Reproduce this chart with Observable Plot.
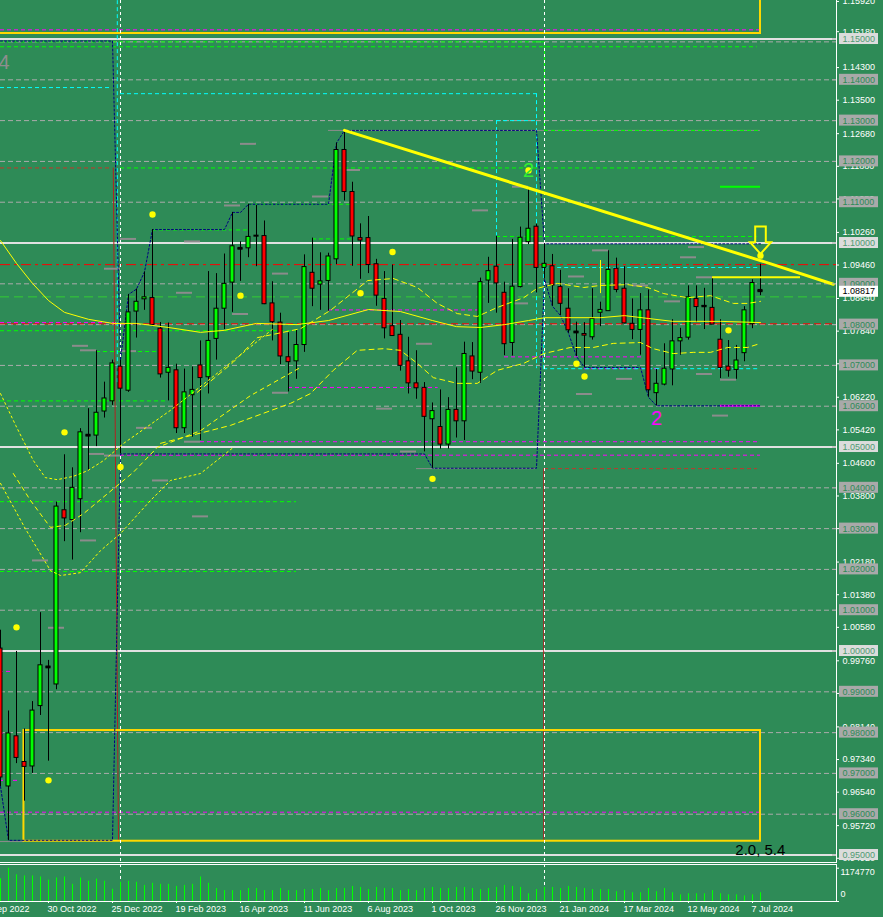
<!DOCTYPE html>
<html><head><meta charset="utf-8">
<script src="https://cdn.jsdelivr.net/npm/d3@7"></script>
<script src="https://cdn.jsdelivr.net/npm/@observablehq/plot@0.6"></script>
<style>
html,body{margin:0;padding:0;background:#2E8B57;overflow:hidden;}
#wrap{width:883px;height:917px;background:#2E8B57;}
#wrap svg{display:block;}
</style></head><body><div id="wrap"></div>
<script>
// ---------- DATA ----------
const weeks = ["2022-09-18","2022-09-25","2022-10-02","2022-10-09","2022-10-16","2022-10-23","2022-10-30","2022-11-06","2022-11-13","2022-11-20","2022-11-27","2022-12-04","2022-12-11","2022-12-18","2022-12-25","2023-01-01","2023-01-08","2023-01-15","2023-01-22","2023-01-29","2023-02-05","2023-02-12","2023-02-19","2023-02-26","2023-03-05","2023-03-12","2023-03-19","2023-03-26","2023-04-02","2023-04-09","2023-04-16","2023-04-23","2023-04-30","2023-05-07","2023-05-14","2023-05-21","2023-05-28","2023-06-04","2023-06-11","2023-06-18","2023-06-25","2023-07-02","2023-07-09","2023-07-16","2023-07-23","2023-07-30","2023-08-06","2023-08-13","2023-08-20","2023-08-27","2023-09-03","2023-09-10","2023-09-17","2023-09-24","2023-10-01","2023-10-08","2023-10-15","2023-10-22","2023-10-29","2023-11-05","2023-11-12","2023-11-19","2023-11-26","2023-12-03","2023-12-10","2023-12-17","2023-12-24","2023-12-31","2024-01-07","2024-01-14","2024-01-21","2024-01-28","2024-02-04","2024-02-11","2024-02-18","2024-02-25","2024-03-03","2024-03-10","2024-03-17","2024-03-24","2024-03-31","2024-04-07","2024-04-14","2024-04-21","2024-04-28","2024-05-05","2024-05-12","2024-05-19","2024-05-26","2024-06-02","2024-06-09","2024-06-16","2024-06-23","2024-06-30","2024-07-07","2024-07-14"];
const open  = [1.0006,0.9668,0.9791,0.9728,0.9717,0.9865,0.9962,0.9918,1.0345,1.0321,1.0372,1.0530,1.0528,1.0587,1.0612,1.0697,1.0638,1.0832,1.0862,1.0865,1.0790,1.0682,1.0688,1.0546,1.0627,1.0700,1.0671,1.0765,1.0839,1.0903,1.0988,1.0987,1.1018,1.1017,1.0852,1.0805,1.0720,1.0710,1.0750,1.0927,1.0898,1.0907,1.0960,1.1228,1.1125,1.1012,1.1012,1.0948,1.0863,1.0796,1.0775,1.0710,1.0656,1.0645,1.0568,1.0549,1.0506,1.0591,1.0563,1.0722,1.0682,1.0908,1.0942,1.0878,1.0755,1.0892,1.1002,1.1040,1.0939,1.0943,1.0892,1.0839,1.0783,1.0777,1.0769,1.0829,1.0833,1.0937,1.0888,1.0802,1.0787,1.0835,1.0632,1.0653,1.0690,1.0759,1.0768,1.0863,1.0846,1.0841,1.0763,1.0697,1.0689,1.0730,1.0801,1.0885];
const high  = [1.0051,0.9853,0.9999,0.9809,0.9876,1.0094,0.9977,1.0365,1.0481,1.0449,1.0545,1.0594,1.0736,1.0659,1.0713,1.0713,1.0874,1.0887,1.0929,1.1033,1.0805,1.0804,1.0703,1.0691,1.0696,1.0760,1.0930,1.0925,1.0973,1.1075,1.1003,1.1095,1.1092,1.1054,1.0905,1.0828,1.0780,1.0787,1.0971,1.1012,1.0976,1.0975,1.1245,1.1276,1.1149,1.1047,1.1065,1.0960,1.0930,1.0946,1.0810,1.0769,1.0736,1.0658,1.0608,1.0640,1.0621,1.0694,1.0757,1.0756,1.0914,1.0965,1.1017,1.0904,1.1009,1.1039,1.1133,1.1046,1.0998,1.0972,1.0933,1.0888,1.0806,1.0805,1.0888,1.0855,1.0981,1.0963,1.0942,1.0863,1.0876,1.0885,1.0690,1.0753,1.0812,1.0791,1.0895,1.0895,1.0889,1.0916,1.0812,1.0761,1.0749,1.0844,1.0910,1.0948];
const low   = [0.9668,0.9536,0.9724,0.9632,0.9700,0.9842,0.9730,0.9905,1.0268,1.0223,1.0290,1.0443,1.0501,1.0571,1.0602,1.0483,1.0634,1.0767,1.0835,1.0795,1.0669,1.0613,1.0533,1.0533,1.0524,1.0516,1.0630,1.0713,1.0788,1.0830,1.0906,1.0964,1.0942,1.0849,1.0760,1.0702,1.0635,1.0666,1.0732,1.0844,1.0835,1.0833,1.0947,1.1103,1.0943,1.0911,1.0925,1.0845,1.0765,1.0771,1.0686,1.0630,1.0617,1.0488,1.0448,1.0495,1.0495,1.0522,1.0516,1.0665,1.0656,1.0852,1.0828,1.0724,1.0723,1.0890,1.0996,1.0877,1.0911,1.0845,1.0822,1.0779,1.0722,1.0695,1.0762,1.0795,1.0833,1.0878,1.0802,1.0763,1.0725,1.0622,1.0601,1.0650,1.0650,1.0725,1.0762,1.0805,1.0788,1.0800,1.0668,1.0671,1.0666,1.0709,1.0790,1.0871];
const close = [0.9690,0.9798,0.9738,0.9716,0.9854,0.9965,0.9960,1.0354,1.0325,1.0400,1.0536,1.0528,1.0584,1.0619,1.0705,1.0643,1.0830,1.0856,1.0867,1.0799,1.0678,1.0694,1.0546,1.0634,1.0640,1.0669,1.0760,1.0839,1.0900,1.0992,1.0986,1.1015,1.1018,1.0850,1.0806,1.0722,1.0708,1.0750,1.0941,1.0888,1.0906,1.0967,1.1228,1.1125,1.1016,1.1006,1.0946,1.0871,1.0791,1.0772,1.0699,1.0656,1.0644,1.0574,1.0588,1.0506,1.0591,1.0563,1.0728,1.0685,1.0904,1.0931,1.0901,1.0752,1.0893,1.1013,1.1035,1.0939,1.0949,1.0896,1.0851,1.0786,1.0781,1.0773,1.0814,1.0836,1.0934,1.0885,1.0803,1.0787,1.0835,1.0639,1.0655,1.0692,1.0759,1.0767,1.0867,1.0843,1.0845,1.0800,1.0694,1.0687,1.0712,1.0835,1.0902,1.0882];
const volume = [804000,1174770,940000,903000,903000,866000,754000,829000,866000,606000,829000,717000,791000,717000,433000,680000,717000,680000,569000,643000,606000,606000,532000,569000,606000,866000,643000,458000,383000,383000,383000,458000,458000,383000,383000,458000,383000,383000,420000,420000,458000,383000,458000,458000,532000,495000,420000,495000,458000,458000,383000,420000,383000,458000,495000,458000,458000,495000,495000,458000,420000,458000,495000,569000,532000,495000,272000,420000,495000,495000,458000,532000,495000,458000,420000,420000,420000,346000,383000,309000,309000,458000,346000,458000,309000,235000,272000,272000,272000,383000,272000,235000,235000,198000,235000,309000];

// indicator series, [week index, price]
const maLine = [[0,1.1006],[2,1.0950],[4,1.0901],[6,1.0859],[8,1.0830],[11,1.0813],[14,1.0803],[17,1.0803],[21,1.0793],[25,1.0781],[28,1.0786],[32,1.0803],[37,1.0800],[41,1.0810],[46,1.0837],[50,1.0832],[54,1.0810],[57,1.0795],[60,1.0793],[63,1.0800],[66,1.0810],[68,1.0817],[71,1.0817],[75,1.0817],[78,1.0822],[81,1.0815],[84,1.0808],[87,1.0808],[90,1.0808],[95,1.0805]];
const bandOuterA = [[0,1.0411],[3.1,1.0300],[6.25,1.0197],[7.5,1.0185],[10,1.0192],[12.5,1.0246],[15,1.0288],[18.75,1.0369],[21.25,1.0418],[25,1.0435],[29.1,1.0499]];
const bandOuterB = [[0,1.0631],[1.9,1.0553],[4.1,1.0467],[5.6,1.0425],[7.1,1.0420],[9.1,1.0428],[10.9,1.0442],[12.9,1.0467],[15.4,1.0509],[21.25,1.0590],[27.5,1.0687],[34.1,1.0790]];
const bandInnerC = [[1.6,1.0435],[3.75,1.0369],[5.4,1.0325],[6.25,1.0303],[8.1,1.0308],[10.4,1.0337],[13.4,1.0386],[16.6,1.0438],[19.6,1.0499],[25,1.0540],[31.25,1.0626],[37.5,1.0695]];
const bandLower = [[20,1.0509],[28.75,1.0553],[36.25,1.0607],[38.75,1.0631],[41.6,1.0688],[44.6,1.0737],[47.9,1.0741],[50,1.0737],[52.1,1.0705],[54.1,1.0670],[57.1,1.0656],[59.6,1.0656],[62.1,1.0688],[65.4,1.0705],[67.9,1.0729],[71.25,1.0744],[74.1,1.0744],[76.6,1.0754],[80,1.0756],[81.6,1.0741],[84.1,1.0729],[86.6,1.0732],[88.75,1.0732],[90.9,1.0744],[93.4,1.0744],[95,1.0754]];
const bandUpper = [[24.6,1.0634],[29.1,1.0708],[32.1,1.0768],[37.5,1.0790],[41.25,1.0835],[45.9,1.0908],[49.1,1.0913],[52.1,1.0891],[54.6,1.0852],[57.1,1.0827],[59.6,1.0820],[62.1,1.0842],[65.4,1.0866],[67.1,1.0889],[69.6,1.0901],[72.9,1.0891],[75,1.0896],[78.4,1.0898],[80.9,1.0891],[82.9,1.0876],[85.9,1.0866],[88.75,1.0871],[91.6,1.0852],[93.4,1.0852],[95,1.0857]];
const yearHigh = [[0,1.1495],[14,1.1495],[15,1.0713],[16,1.0874],[17,1.0887],[18,1.0929],[19,1.1033],[28,1.1033],[29,1.1075],[30,1.1075],[31,1.1095],[41,1.1095],[42,1.1245],[43,1.1276],[67,1.1276],[68,1.0998],[95,1.0998]];
const yearLow = [[0,0.9668],[1,0.9536],[14,0.9536],[15,1.0483],[53,1.0483],[54,1.0448],[67,1.0448],[68,1.0911],[69,1.0845],[70,1.0822],[71,1.0779],[72,1.0722],[73,1.0695],[80,1.0695],[81,1.0622],[82,1.0601],[95,1.0601]];
const fractals = [[2,1.0058],[6,0.9683],[8,1.0536],[15,1.0451],[19,1.1070],[30,1.0871],[45,1.0877],[49,1.0978],[54,1.0422],[66,1.1178],[72,1.0704],[73,1.0673],[91,1.0786],[95,1.0969]];
const trendLine = [[43,1.1276],[95,1.0957],[104.1,1.0899]];

// horizontal levels
const gridLevels = [1.14,1.13,1.12,1.11,1.09,1.08,1.07,1.06,1.04,1.03,1.02,1.01,0.99,0.98,0.97,0.96,1.1493];
const roundLevels = [1.15,1.10,1.05,1.00,0.95];
const greenLongLevel = [1.0868];
const redDashDotLevel = [1.0947];
const redDashLevel = [1.0802];
const greenSegs = [{p:1.1481,a:0,b:94.6},{p:1.1493,a:0,b:67},{p:1.1184,a:15,b:94.6},{p:1.1276,a:68,b:95},{p:1.1016,a:62,b:94.6},{p:1.1095,a:31,b:44},{p:1.1032,a:19,b:31},{p:1.1010,a:39,b:44},{p:1.0734,a:12,b:19.5},{p:1.0785,a:0,b:37},{p:1.0613,a:0,b:20.8},{p:1.0366,a:0,b:37},{p:1.0195,a:0,b:37}];
const greenSolidSegs = [{p:1.1138,a:90,b:95}];
const magentaSegs = [{p:1.15225,a:0,b:95},{p:1.0805,a:0,b:15},{p:1.0721,a:63,b:80.5},{p:1.0692,a:73,b:82.7},{p:1.0646,a:36,b:54.7},{p:1.0836,a:41,b:59.7},{p:1.0513,a:25,b:95},{p:1.0480,a:15,b:95},{p:0.9605,a:0,b:95},{p:0.9950,a:-1,b:1.6},{p:0.9798,a:-1,b:1.6},{p:0.9683,a:-1,b:2.5}];
const magentaSolidSegs = [{p:1.0601,a:90,b:95}];
const cyanSegs = [{p:1.1381,a:0,b:14},{p:1.1366,a:15,b:67},{p:1.1300,a:62,b:67},{p:1.0940,a:67.9,b:95},{p:1.0692,a:67.9,b:95}];
const cyanVerticals = [{i:14.6,p1:1.1594,p2:1.0656},{i:67,p1:1.1366,p2:1.0692},{i:62,p1:1.1300,p2:1.1015},{i:67.9,p1:1.0940,p2:1.0692}];
const darkRedSegs = [{p:1.0447,a:68,b:94.6},{p:1.1184,a:0,b:14}];
const darkRedLines = [[[14.1,1.1184],[14.4,1.0400],[14.75,0.9534]],[[67.9,1.0447],[67.9,0.9534]]];
const greenStep = [[67,1.1493],[68,1.1276]];
const graySolidSegs = [{p:1.1276,a:41,b:95},{p:1.0447,a:52,b:67},{p:0.9533,a:0,b:3}];
const grayMarks = [[30,1.1243],[23,1.1004],[13,1.0937],[34,1.0925],[22,1.0878],[29,1.0826],[9,1.0748],[10,1.0737],[15,1.0735],[17,1.0547],[23,1.0513],[11,1.0483],[34,1.0633],[15,1.1010],[28,1.1092],[13,1.0479],[19,1.0418],[24,1.0330],[10,1.0271],[4,1.0222],[6,1.0057],[39,1.1114],[43,1.1179],[59,1.1080],[47,1.0594],[50,1.0489],[52,1.0753],[64,1.1138],[64,1.0852],[74,1.0982],[85,1.0965],[86,1.0990],[71,1.0918],[87,1.0916],[83,1.0857],[77,1.0667],[72,1.0630],[90,1.0665],[89,1.0577],[87,1.0679],[79,1.0896]];
const yellowBoxes = [{a:-5,b:95,lo:1.15135,hi:1.17},{a:2.93,b:95,lo:0.95338,hi:0.98051}];
const yellowHoriz = [{p:1.0916,a:89,b:100}];
const yellowVert = [{i:75,p1:1.0957,p2:1.0876}];
const arrows = [{i:95,p:1.1006}];
const separators = [15, 68];
const annotations = [
  {t:"4", i:-0.25, p:1.1442, kind:"gray"},
  {t:"2", i:66, p:1.1178, kind:"green"},
  {t:"2", i:82, p:1.0570, kind:"magenta"},
  {t:"2.0, 5.4", i:91.85, p:0.9511, kind:"black"}
];

// axis labels
const priceTicks = [1.1592,1.1518,1.1430,1.1350,1.1268,1.1188,1.1108,1.1026,1.0946,1.0864,1.0784,1.0704,1.0622,1.0542,1.0460,1.0380,1.0300,1.0218,1.0138,1.0058,0.9976,0.9896,0.9814,0.9734,0.9654,0.9572,0.9492];
const grayBoxLabels = [1.14,1.13,1.12,1.11,1.09,1.08,1.07,1.06,1.04,1.03,1.02,1.01,0.99,0.98,0.97,0.96];
const lightBoxLabels = [1.15,1.10,1.05,1.00,0.95];
const currentPrice = [1.08817];
const dateTicks = ["2022-09-04","2022-10-30","2022-12-25","2023-02-19","2023-04-16","2023-06-11","2023-08-06","2023-10-01","2023-11-26","2024-01-21","2024-03-17","2024-05-12","2024-07-07"];
const volumeMaxLabel = [1174770];
const volumeZeroLabel = [0];

// ---------- SCALES / HELPERS ----------
const FONT = "'Liberation Sans', Arial, sans-serif";
const fmt5 = d3.format(".5f");
const fmtDate = d3.utcFormat("%-d %b %Y");
const D0 = Date.parse(weeks[0] + "T00:00:00Z");
const wk = i => new Date(D0 + i * 7 * 864e5);
const xDomain = [wk(0), wk(104.5)];
const yDomain = [0.94792, 1.15944];
const PX = (yDomain[1] - yDomain[0]) / 863; // price per pixel
const candles = weeks.map((w, i) => ({date: new Date(w + "T00:00:00Z"), i, o: open[i], h: high[i], l: low[i], c: close[i], v: volume[i]}));
const upC = candles.filter(d => d.c >= d.o), dnC = candles.filter(d => d.c < d.o);
const dojis = candles.filter(d => Math.abs(d.c - d.o) < 0.0003);
const segX1 = d => wk(d.a), segX2 = d => wk(d.b);
const px = d => wk(d[0]), py = d => d[1];
const paths = (arrs) => arrs.flatMap((a, k) => a.map(p => ({i: p[0], p: p[1], k})));
const Y = "#FFFF00";
const thin = {strokeWidth: 1};

const main = Plot.plot({
  width: 883, height: 863,
  marginLeft: 0, marginRight: 47, marginTop: 0, marginBottom: 0,
  x: {type: "utc", domain: xDomain, axis: null},
  y: {type: "linear", domain: yDomain, axis: null},
  style: {background: "transparent", color: "white", fontFamily: FONT, fontSize: "9px"},
  marks: [
    Plot.ruleY(gridLevels, {stroke: "#ABABAB", strokeDasharray: "5,3"}),
    Plot.ruleY(roundLevels, {stroke: "#E1E1E1", strokeWidth: 2}),
    Plot.ruleY(greenLongLevel, {stroke: "#32CD32", strokeDasharray: "9,5"}),
    Plot.ruleY(redDashDotLevel, {stroke: "#FF0000", strokeDasharray: "10,4,3,4"}),
    Plot.ruleY(redDashLevel, {stroke: "#FF0000", strokeDasharray: "7,4"}),
    Plot.ruleY(graySolidSegs, {y: "p", x1: segX1, x2: segX2, stroke: "#8C8C8C"}),
    Plot.ruleY(greenSegs, {y: "p", x1: segX1, x2: segX2, stroke: "#00FF00", strokeDasharray: "4,3"}),
    Plot.ruleY(greenSolidSegs, {y: "p", x1: segX1, x2: segX2, stroke: "#00FF00", strokeWidth: 2}),
    Plot.line(greenStep, {x: px, y: py, stroke: "#00FF00", curve: "step-after", ...thin}),
    Plot.ruleY(magentaSegs, {y: "p", x1: segX1, x2: segX2, stroke: "#FF00FF", strokeDasharray: "4,3", clip: true}),
    Plot.ruleY(magentaSolidSegs, {y: "p", x1: segX1, x2: segX2, stroke: "#FF00FF", strokeWidth: 2}),
    Plot.ruleY(cyanSegs, {y: "p", x1: segX1, x2: segX2, stroke: "#00FFFF", strokeDasharray: "4,3"}),
    Plot.ruleX(cyanVerticals, {x: d => wk(d.i), y1: "p1", y2: "p2", stroke: "#00FFFF", strokeDasharray: "4,3"}),
    Plot.ruleY(darkRedSegs, {y: "p", x1: segX1, x2: segX2, stroke: "#C0392B", strokeDasharray: "4,3"}),
    Plot.line(paths(darkRedLines), {x: d => wk(d.i), y: "p", z: "k", stroke: "#B22222", ...thin}),
    Plot.ruleY(grayMarks, {y: d => d[1], x1: d => wk(d[0]), x2: d => wk(d[0] + 2), stroke: "#8C8C8C", strokeWidth: 2}),
    Plot.rect(yellowBoxes, {x1: segX1, x2: segX2, y1: "lo", y2: "hi", fill: "none", stroke: "#FFD700", strokeWidth: 2, clip: true}),
    Plot.line(yearHigh, {x: px, y: py, stroke: "#000080", strokeDasharray: "2,2", ...thin}),
    Plot.line(yearLow, {x: px, y: py, stroke: "#000080", strokeDasharray: "2,2", ...thin}),
    Plot.ruleX(separators.map(wk), {stroke: "white", strokeDasharray: "3,3"}),
    // candles
    Plot.ruleX(candles, {x: "date", y1: "l", y2: "h", stroke: "black"}),
    Plot.rect(upC, {x1: d => wk(d.i - 0.25), x2: d => wk(d.i + 0.25), y1: "o", y2: "c", fill: "#00FF00", stroke: "black"}),
    Plot.rect(dnC, {x1: d => wk(d.i - 0.25), x2: d => wk(d.i + 0.25), y1: "o", y2: "c", fill: "#FF0000", stroke: "black"}),
    Plot.ruleY(dojis, {y: "c", x1: d => wk(d.i - 0.32), x2: d => wk(d.i + 0.32), stroke: "black", strokeWidth: 2}),
    // indicator
    Plot.line(maLine, {x: px, y: py, stroke: Y, ...thin}),
    Plot.line(bandOuterA, {x: px, y: py, stroke: Y, strokeDasharray: "2,3", ...thin}),
    Plot.line(bandOuterB, {x: px, y: py, stroke: Y, strokeDasharray: "2,3", ...thin}),
    Plot.line(bandInnerC, {x: px, y: py, stroke: Y, strokeDasharray: "4,4", ...thin}),
    Plot.line(bandUpper, {x: px, y: py, stroke: Y, strokeDasharray: "5,4", ...thin}),
    Plot.line(bandLower, {x: px, y: py, stroke: Y, strokeDasharray: "5,4", ...thin}),
    // objects
    Plot.line(trendLine, {x: px, y: py, stroke: Y, strokeWidth: 3, clip: true}),
    Plot.ruleY(yellowHoriz, {y: "p", x1: segX1, x2: segX2, stroke: Y, strokeWidth: 2}),
    Plot.ruleX(yellowVert, {x: d => wk(d.i), y1: "p1", y2: "p2", stroke: Y}),
    Plot.dot(fractals, {x: px, y: py, r: 3.2, fill: Y}),
    Plot.dot(arrows, {x: d => wk(d.i), y: "p", r: 10, stroke: Y, strokeWidth: 2, fill: "none",
      symbol: {draw(ctx) { ctx.moveTo(-5.3,-14); ctx.lineTo(5.3,-14); ctx.lineTo(5.3,1.7); ctx.lineTo(10.5,1.7); ctx.lineTo(0,13.3); ctx.lineTo(-10.5,1.7); ctx.lineTo(-5.3,1.7); ctx.closePath(); }}}),
    Plot.text(annotations.filter(d => d.kind === "gray"), {x: d => wk(d.i), y: "p", text: "t", textAnchor: "start", fill: "#8E8E8E", fontSize: 20}),
    Plot.text(annotations.filter(d => d.kind === "green"), {x: d => wk(d.i), y: "p", text: "t", fill: "#33EE33", fontSize: 20}),
    Plot.text(annotations.filter(d => d.kind === "magenta"), {x: d => wk(d.i), y: "p", text: "t", fill: "#FF00FF", fontSize: 20}),
    Plot.text(annotations.filter(d => d.kind === "black"), {x: d => wk(d.i), y: "p", text: "t", textAnchor: "start", fill: "black", fontSize: 15}),
    // right axis
    Plot.ruleX([xDomain[1]], {stroke: "white"}),
    Plot.ruleY([yDomain[0]], {stroke: "white", dy: -1}),
    Plot.ruleY(priceTicks, {insetLeft: 836, insetRight: -3, stroke: "white"}),
    Plot.text(priceTicks, {y: d => d, text: d => fmt5(d), frameAnchor: "right", dx: 6, textAnchor: "start", fill: "white", fontSize: 9}),
    Plot.ruleY(grayBoxLabels.concat(lightBoxLabels), {insetLeft: 832, insetRight: 0, stroke: "#A8A8A8"}),
    Plot.rect(grayBoxLabels, {y1: d => d - 5.5 * PX, y2: d => d + 5.5 * PX, insetLeft: 839, insetRight: -42, fill: "#A9A9A9"}),
    Plot.text(grayBoxLabels, {y: d => d, text: d => fmt5(d), frameAnchor: "right", dx: 6, textAnchor: "start", fill: "#2E8B57", fontSize: 9}),
    Plot.rect(lightBoxLabels, {y1: d => d - 5.5 * PX, y2: d => d + 5.5 * PX, insetLeft: 839, insetRight: -42, fill: "#DCDCDC"}),
    Plot.text(lightBoxLabels, {y: d => d, text: d => fmt5(d), frameAnchor: "right", dx: 6, textAnchor: "start", fill: "#4F9A72", fontSize: 9}),
    Plot.rect(currentPrice, {y1: d => d - 4 * PX, y2: d => d + 7 * PX, dy: 2, insetLeft: 839, insetRight: -42, fill: "white"}),
    Plot.text(currentPrice, {y: d => d, text: d => fmt5(d), frameAnchor: "right", dx: 6, textAnchor: "start", fill: "black", fontSize: 9})
  ]
});

const vTop = 1305300;
const vol = Plot.plot({
  width: 883, height: 54,
  marginLeft: 0, marginRight: 47, marginTop: 1, marginBottom: 16,
  x: {type: "utc", domain: xDomain, axis: null},
  y: {domain: [0, vTop], axis: null},
  style: {background: "transparent", color: "white", fontFamily: FONT, fontSize: "9px"},
  marks: [
    Plot.ruleX(separators.map(wk), {stroke: "white", strokeDasharray: "3,3"}),
    Plot.ruleX(candles, {x: "date", y1: 0, y2: "v", stroke: "#00FF00"}),
    Plot.ruleY([vTop], {stroke: "white"}),
    Plot.ruleY([0], {stroke: "white"}),
    Plot.ruleX([xDomain[1]], {stroke: "white"}),
    Plot.ruleY(volumeMaxLabel.concat(volumeZeroLabel), {insetLeft: 836, insetRight: -3, stroke: "white"}),
    Plot.text(volumeMaxLabel, {y: d => d, text: d => String(d), frameAnchor: "right", dx: 4, dy: 4, textAnchor: "start", fill: "white", fontSize: 9}),
    Plot.text(volumeZeroLabel, {y: d => d, text: d => String(d), frameAnchor: "right", dx: 4, dy: -7, textAnchor: "start", fill: "white", fontSize: 9}),
    Plot.ruleX(dateTicks, {x: d => new Date(d + "T00:00:00Z"), insetTop: 37, insetBottom: -2, stroke: "white"}),
    Plot.text(dateTicks, {x: d => new Date(d + "T00:00:00Z"), text: d => fmtDate(new Date(d + "T00:00:00Z")), frameAnchor: "bottom", dy: 10, dx: -1, textAnchor: "start", fill: "white", fontSize: 9})
  ]
});

const wrap = document.getElementById("wrap");
wrap.appendChild(main);
wrap.appendChild(vol);
</script></body></html>
